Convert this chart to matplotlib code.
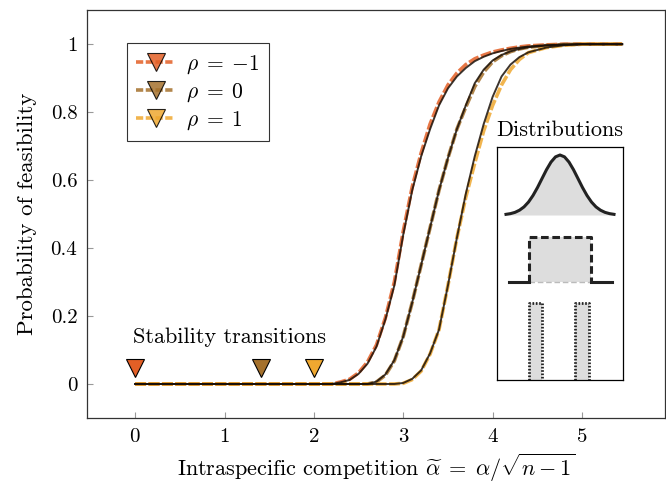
import matplotlib
matplotlib.use("Agg")
import matplotlib.pyplot as plt
from matplotlib.lines import Line2D
import numpy as np

plt.rcParams['font.family'] = 'serif'
plt.rcParams['font.serif'] = ['cmr10']
plt.rcParams['mathtext.fontset'] = 'cm'
plt.rcParams['axes.formatter.use_mathtext'] = True

# data
alpha_grid = [0, 0.5, 1.0, 1.5, 2.0, 2.2, 2.3, 2.4, 2.5, 2.6, 2.7, 2.8, 2.9, 3.0,
              3.1, 3.2, 3.3, 3.4, 3.5, 3.6, 3.7, 3.8, 3.9, 4.0, 4.1, 4.2, 4.3,
              4.4, 4.6, 4.8, 5.0, 5.2, 5.45]

# solid (theory) curves
theory_m1 = [0, 0, 0, 0, 0, 0, 0.005, 0.012, 0.03, 0.06, 0.11, 0.19, 0.29, 0.44,
             0.57, 0.67, 0.75, 0.82, 0.87, 0.905, 0.93, 0.95, 0.963, 0.973, 0.98,
             0.986, 0.99, 0.993, 0.997, 0.999, 1, 1, 1]
theory_0 = [0, 0, 0, 0, 0, 0, 0, 0, 0, 0, 0.007, 0.028, 0.07, 0.14,
            0.24, 0.35, 0.46, 0.57, 0.665, 0.75, 0.82, 0.885, 0.925, 0.952, 0.968,
            0.979, 0.986, 0.991, 0.996, 0.999, 1, 1, 1]
theory_p1 = [0, 0, 0, 0, 0, 0, 0, 0, 0, 0, 0, 0, 0, 0.003,
             0.015, 0.04, 0.09, 0.16, 0.29, 0.43, 0.56, 0.67, 0.765, 0.845, 0.905,
             0.94, 0.962, 0.976, 0.99, 0.997, 1, 1, 1]

# dashed (simulation) curves
sim_m1 = [0, 0, 0, 0, 0, 0, 0.006, 0.014, 0.033, 0.065, 0.115, 0.195, 0.3, 0.45,
          0.58, 0.68, 0.765, 0.83, 0.88, 0.915, 0.94, 0.957, 0.968, 0.977, 0.983,
          0.988, 0.992, 0.995, 0.998, 1, 1, 1, 1]
sim_0 = [0, 0, 0, 0, 0, 0, 0, 0, 0, 0, 0.006, 0.026, 0.068, 0.14,
         0.24, 0.35, 0.46, 0.57, 0.665, 0.75, 0.815, 0.875, 0.918, 0.948, 0.966,
         0.978, 0.986, 0.991, 0.996, 0.999, 1, 1, 1]
sim_p1 = [0, 0, 0, 0, 0, 0, 0, 0, 0, 0, 0, 0, 0, 0.002,
          0.013, 0.038, 0.088, 0.16, 0.29, 0.43, 0.55, 0.65, 0.745, 0.82, 0.88,
          0.925, 0.955, 0.975, 0.99, 0.997, 1, 1, 1]

rho_labels = [r'$\rho\;=\;{-}1$', r'$\rho\;=\;0$', r'$\rho\;=\;1$']
colors = ['#e35f26', '#a5712c', '#efa830']
transitions = [0.0, 1.41, 2.0]
transition_y = 0.047

# inset icons (inset units)
gauss_half = [1.0, 0.969, 0.882, 0.755, 0.607, 0.458, 0.325, 0.216, 0.135,
              0.080, 0.044, 0.023, 0.011]
gauss_step = 0.25

fig = plt.figure(figsize=(6.66, 4.86), dpi=100)
ax = fig.add_axes([0.1306, 0.140, 0.868, 0.839])

theory = [theory_m1, theory_0, theory_p1]
sims = [sim_m1, sim_0, sim_p1]
for c, th, sm in zip(colors, theory, sims):
    ax.plot(alpha_grid, sm, color=c, lw=2.6, alpha=0.85, dashes=(3, 0.7), zorder=2)
    ax.plot(alpha_grid, th, color='#1a1008', lw=1.4, alpha=0.85, zorder=3)

for c, t in zip(colors, transitions):
    ax.plot([t], [transition_y], marker='v', ms=13, color=c, mec='black', mew=0.8,
            ls='none', zorder=4)
ax.text(1.06, 0.137, 'Stability transitions', ha='center', va='center', fontsize=16)

ax.set_xlim(-0.54, 5.93)
ax.set_ylim(-0.1, 1.1)
ax.set_xticks([0, 1, 2, 3, 4, 5])
ax.set_yticks([0, 0.2, 0.4, 0.6, 0.8, 1])
ax.set_yticklabels(['0', '0.2', '0.4', '0.6', '0.8', '1'])
ax.tick_params(direction='in', length=4, color='#999999', labelsize=15, pad=7)
for s in ax.spines.values():
    s.set_color('#333333')
    s.set_linewidth(0.9)
ax.set_xlabel(r'Intraspecific competition $\widetilde{\alpha}\;=\;\alpha/\sqrt{n-1}$',
              fontsize=16, labelpad=4)
ax.set_ylabel('Probability of feasibility', fontsize=16.5, labelpad=10)

handles = []
for c in colors:
    handles.append(Line2D([], [], color=c, lw=2.6, alpha=0.85, dashes=(2, 0.7),
                          marker='v', ms=13, mfc=c, mec='black', mew=0.8))
leg = ax.legend(handles, rho_labels, loc='upper left', bbox_to_anchor=(0.05, 0.945),
                fontsize=15.5, frameon=True, fancybox=False, edgecolor='black',
                handlelength=1.8, borderpad=0.45, labelspacing=0.25, handletextpad=0.5)
leg.get_frame().set_linewidth(0.8)

# inset with the distribution icons
ins = fig.add_axes([497 / 666, 1 - 380 / 486, 126 / 666, 233 / 486])
ins.set_xlim(0, 126)
ins.set_ylim(0, 233)
ins.set_xticks([])
ins.set_yticks([])
for s in ins.spines.values():
    s.set_color('black')
    s.set_linewidth(0.9)
ins.text(0.5, 1.03, 'Distributions', transform=ins.transAxes, ha='center',
         va='bottom', fontsize=16)

g = np.array(gauss_half[::-1][:-1] + gauss_half)
gx = np.arange(-(len(gauss_half) - 1), len(gauss_half)) * gauss_step
gu = 63 + gx * 18
gv = 165 + g * 60
ins.fill_between(gu, 165, gv, color='#dddddd', lw=0)
ins.plot(gu, gv, color='#222222', lw=2.2)

# uniform
ins.fill_between([32, 94], 98, 143, color='#dddddd', lw=0)
ins.plot([32, 32, 94, 94], [98, 143, 143, 98], color='#222222', lw=2.2, dashes=(2.5, 1.2))
ins.plot([32, 94], [98, 98], color='#bbbbbb', lw=1.0, dashes=(4, 2))
ins.plot([12, 32], [98, 98], color='#222222', lw=2.2)
ins.plot([94, 115], [98, 98], color='#222222', lw=2.2)

# bimodal
for u0, u1 in [(32, 45), (78, 92)]:
    ins.fill_between([u0, u1], 0, 77, color='#dddddd', lw=0)
    ins.plot([u0, u0, u1, u1], [0, 77, 77, 0], color='#222222', lw=2.0, dashes=(0.6, 0.6))

fig.savefig('out.png', dpi=100)
